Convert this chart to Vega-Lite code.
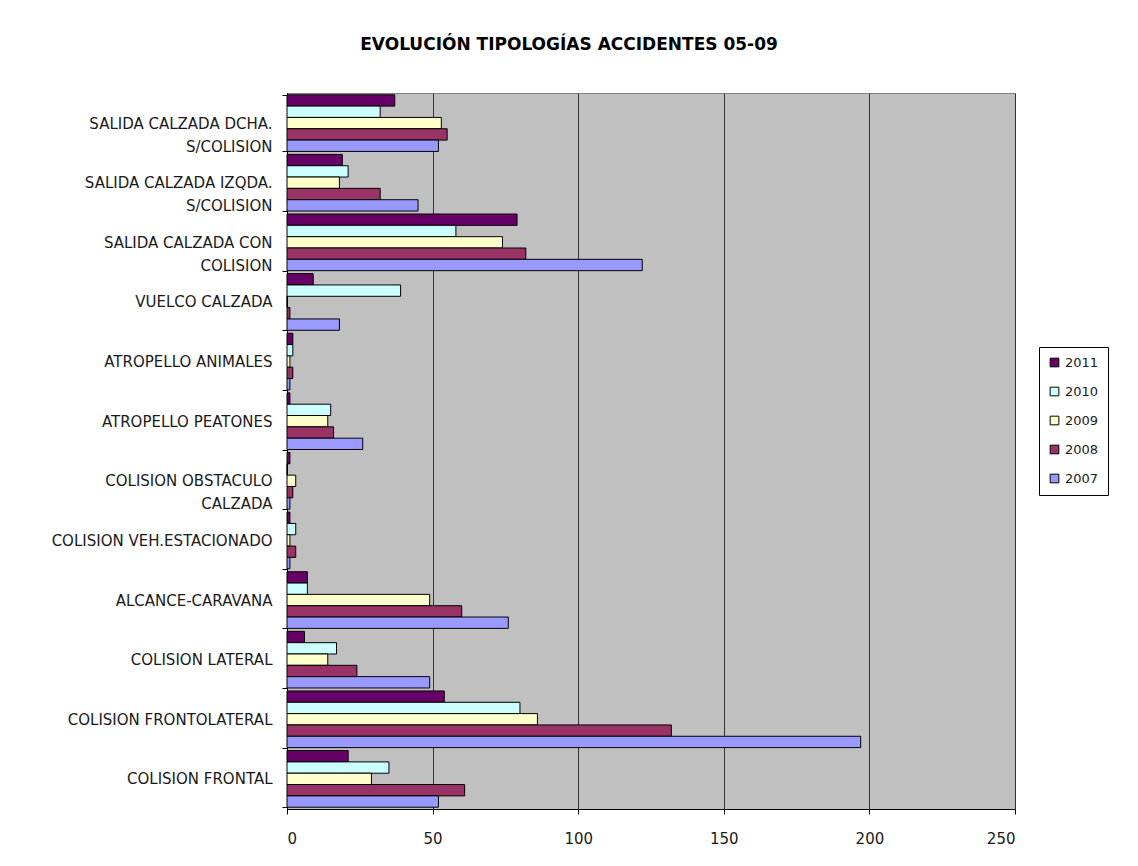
{
  "$schema": "https://vega.github.io/schema/vega-lite/v6.json",
  "width": 728,
  "height": 716,
  "autosize": {"type": "none"},
  "padding": {"left": 287, "top": 93, "right": 123, "bottom": 57},
  "background": "white",
  "title": {
    "text": "EVOLUCIÓN TIPOLOGÍAS ACCIDENTES 05-09",
    "fontSize": 17,
    "fontWeight": "bold",
    "font": "DejaVu Sans",
    "color": "black",
    "anchor": "middle",
    "dx": -82,
    "offset": 32
  },
  "data": {
    "values": [
      {"category": "SALIDA CALZADA DCHA. S/COLISION", "year": "2011", "value": 37},
      {"category": "SALIDA CALZADA DCHA. S/COLISION", "year": "2010", "value": 32},
      {"category": "SALIDA CALZADA DCHA. S/COLISION", "year": "2009", "value": 53},
      {"category": "SALIDA CALZADA DCHA. S/COLISION", "year": "2008", "value": 55},
      {"category": "SALIDA CALZADA DCHA. S/COLISION", "year": "2007", "value": 52},
      {"category": "SALIDA CALZADA IZQDA. S/COLISION", "year": "2011", "value": 19},
      {"category": "SALIDA CALZADA IZQDA. S/COLISION", "year": "2010", "value": 21},
      {"category": "SALIDA CALZADA IZQDA. S/COLISION", "year": "2009", "value": 18},
      {"category": "SALIDA CALZADA IZQDA. S/COLISION", "year": "2008", "value": 32},
      {"category": "SALIDA CALZADA IZQDA. S/COLISION", "year": "2007", "value": 45},
      {"category": "SALIDA CALZADA CON COLISION", "year": "2011", "value": 79},
      {"category": "SALIDA CALZADA CON COLISION", "year": "2010", "value": 58},
      {"category": "SALIDA CALZADA CON COLISION", "year": "2009", "value": 74},
      {"category": "SALIDA CALZADA CON COLISION", "year": "2008", "value": 82},
      {"category": "SALIDA CALZADA CON COLISION", "year": "2007", "value": 122},
      {"category": "VUELCO CALZADA", "year": "2011", "value": 9},
      {"category": "VUELCO CALZADA", "year": "2010", "value": 39},
      {"category": "VUELCO CALZADA", "year": "2009", "value": 0},
      {"category": "VUELCO CALZADA", "year": "2008", "value": 1},
      {"category": "VUELCO CALZADA", "year": "2007", "value": 18},
      {"category": "ATROPELLO ANIMALES", "year": "2011", "value": 2},
      {"category": "ATROPELLO ANIMALES", "year": "2010", "value": 2},
      {"category": "ATROPELLO ANIMALES", "year": "2009", "value": 1},
      {"category": "ATROPELLO ANIMALES", "year": "2008", "value": 2},
      {"category": "ATROPELLO ANIMALES", "year": "2007", "value": 1},
      {"category": "ATROPELLO PEATONES", "year": "2011", "value": 1},
      {"category": "ATROPELLO PEATONES", "year": "2010", "value": 15},
      {"category": "ATROPELLO PEATONES", "year": "2009", "value": 14},
      {"category": "ATROPELLO PEATONES", "year": "2008", "value": 16},
      {"category": "ATROPELLO PEATONES", "year": "2007", "value": 26},
      {"category": "COLISION OBSTACULO CALZADA", "year": "2011", "value": 1},
      {"category": "COLISION OBSTACULO CALZADA", "year": "2010", "value": 0},
      {"category": "COLISION OBSTACULO CALZADA", "year": "2009", "value": 3},
      {"category": "COLISION OBSTACULO CALZADA", "year": "2008", "value": 2},
      {"category": "COLISION OBSTACULO CALZADA", "year": "2007", "value": 1},
      {"category": "COLISION VEH.ESTACIONADO", "year": "2011", "value": 1},
      {"category": "COLISION VEH.ESTACIONADO", "year": "2010", "value": 3},
      {"category": "COLISION VEH.ESTACIONADO", "year": "2009", "value": 1},
      {"category": "COLISION VEH.ESTACIONADO", "year": "2008", "value": 3},
      {"category": "COLISION VEH.ESTACIONADO", "year": "2007", "value": 1},
      {"category": "ALCANCE-CARAVANA", "year": "2011", "value": 7},
      {"category": "ALCANCE-CARAVANA", "year": "2010", "value": 7},
      {"category": "ALCANCE-CARAVANA", "year": "2009", "value": 49},
      {"category": "ALCANCE-CARAVANA", "year": "2008", "value": 60},
      {"category": "ALCANCE-CARAVANA", "year": "2007", "value": 76},
      {"category": "COLISION LATERAL", "year": "2011", "value": 6},
      {"category": "COLISION LATERAL", "year": "2010", "value": 17},
      {"category": "COLISION LATERAL", "year": "2009", "value": 14},
      {"category": "COLISION LATERAL", "year": "2008", "value": 24},
      {"category": "COLISION LATERAL", "year": "2007", "value": 49},
      {"category": "COLISION FRONTOLATERAL", "year": "2011", "value": 54},
      {"category": "COLISION FRONTOLATERAL", "year": "2010", "value": 80},
      {"category": "COLISION FRONTOLATERAL", "year": "2009", "value": 86},
      {"category": "COLISION FRONTOLATERAL", "year": "2008", "value": 132},
      {"category": "COLISION FRONTOLATERAL", "year": "2007", "value": 197},
      {"category": "COLISION FRONTAL", "year": "2011", "value": 21},
      {"category": "COLISION FRONTAL", "year": "2010", "value": 35},
      {"category": "COLISION FRONTAL", "year": "2009", "value": 29},
      {"category": "COLISION FRONTAL", "year": "2008", "value": 61},
      {"category": "COLISION FRONTAL", "year": "2007", "value": 52}
    ]
  },
  "mark": {"type": "bar", "stroke": "black", "strokeWidth": 1, "cornerRadius": 0},
  "encoding": {
    "y": {
      "field": "category",
      "type": "nominal",
      "sort": [
        "SALIDA CALZADA DCHA. S/COLISION",
        "SALIDA CALZADA IZQDA. S/COLISION",
        "SALIDA CALZADA CON COLISION",
        "VUELCO CALZADA",
        "ATROPELLO ANIMALES",
        "ATROPELLO PEATONES",
        "COLISION OBSTACULO CALZADA",
        "COLISION VEH.ESTACIONADO",
        "ALCANCE-CARAVANA",
        "COLISION LATERAL",
        "COLISION FRONTOLATERAL",
        "COLISION FRONTAL"
      ],
      "scale": {"paddingInner": 0.05, "paddingOuter": 0.03},
      "axis": {
        "title": null,
        "tickBand": "extent",
        "tickColor": "black",
        "tickSize": 5,
        "domainColor": "black",
        "labelFont": "DejaVu Sans",
        "labelFontSize": 15,
        "labelColor": "#1a1a1a",
        "labelLimit": 0,
        "labelPadding": 10,
        "labelLineHeight": 23,
        "labelExpr": "datum.value == 'SALIDA CALZADA DCHA. S/COLISION' ? ['SALIDA CALZADA DCHA.', 'S/COLISION'] : datum.value == 'SALIDA CALZADA IZQDA. S/COLISION' ? ['SALIDA CALZADA IZQDA.', 'S/COLISION'] : datum.value == 'SALIDA CALZADA CON COLISION' ? ['SALIDA CALZADA CON', 'COLISION'] : datum.value == 'COLISION OBSTACULO CALZADA' ? ['COLISION OBSTACULO', 'CALZADA'] : datum.value"
      }
    },
    "yOffset": {
      "field": "year",
      "type": "nominal",
      "sort": ["2011", "2010", "2009", "2008", "2007"],
      "scale": {"paddingInner": 0, "paddingOuter": 0}
    },
    "x": {
      "field": "value",
      "type": "quantitative",
      "scale": {"domain": [0, 250], "nice": false},
      "axis": {
        "title": null,
        "values": [0, 50, 100, 150, 200, 250],
        "grid": true,
        "gridColor": "#333",
        "gridWidth": 1,
        "tickColor": "black",
        "tickSize": 5,
        "domainColor": "black",
        "labelFont": "DejaVu Sans",
        "labelFontSize": 15,
        "labelColor": "#1a1a1a",
        "labelPadding": 17
      }
    },
    "color": {
      "field": "year",
      "type": "nominal",
      "scale": {
        "domain": ["2011", "2010", "2009", "2008", "2007"],
        "range": ["#660066", "#CCFFFF", "#FFFFCC", "#993366", "#9999FF"]
      },
      "legend": {
        "title": null,
        "orient": "none",
        "legendX": 752,
        "legendY": 254,
        "fillColor": "white",
        "strokeColor": "black",
        "padding": 9,
        "symbolType": "square",
        "symbolSize": 75,
        "symbolStrokeColor": "black",
        "symbolStrokeWidth": 1,
        "symbolOpacity": 1,
        "labelFont": "DejaVu Sans",
        "labelFontSize": 13,
        "labelColor": "#1a1a1a",
        "rowPadding": 15,
        "labelOffset": 4
      }
    }
  },
  "config": {
    "view": {"fill": "#C0C0C0", "stroke": "#808080", "strokeWidth": 1},
    "axis": {"domainWidth": 1, "tickWidth": 1}
  }
}
